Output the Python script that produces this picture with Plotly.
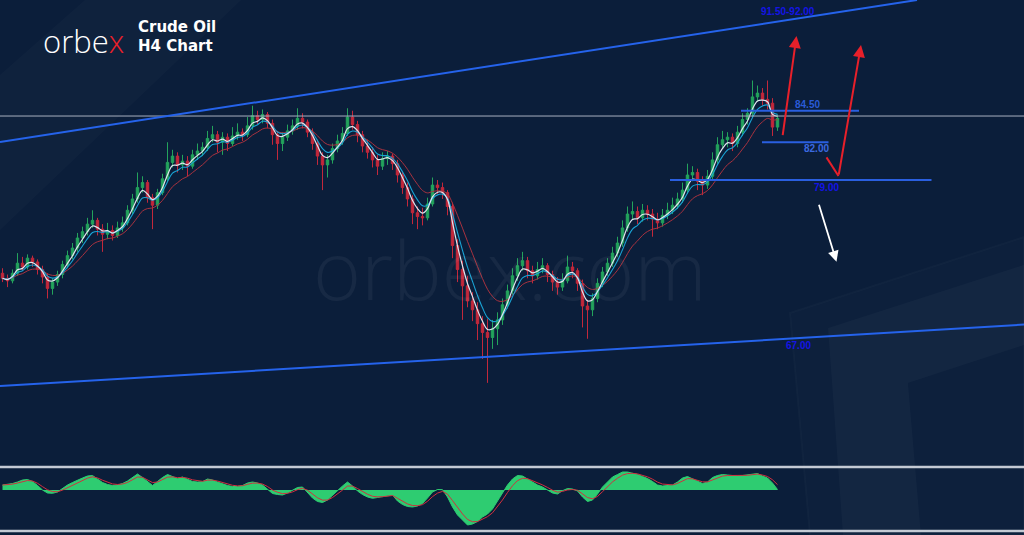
import plotly.graph_objects as go
import pandas as pd

# ---------------- data ----------------
opens = [71.6,71.2,71.0,71.6,72.4,72.1,72.8,72.5,71.9,71.3,
         70.4,70.9,71.5,72.3,73.0,73.6,74.4,74.9,75.5,75.8,
         75.1,74.7,75.0,74.6,75.2,75.6,76.6,77.5,78.4,78.8,
         77.6,77.0,78.0,79.1,80.4,80.9,80.2,80.5,80.1,81.0,
         81.3,81.6,82.3,82.6,82.0,82.4,81.9,82.5,82.8,82.6,
         83.3,84.1,83.8,84.2,83.5,82.6,81.9,82.4,82.9,83.3,
         83.9,83.6,82.8,81.9,80.9,80.2,80.6,81.5,82.1,82.7,
         84.0,83.4,82.6,81.7,81.2,80.6,80.1,80.7,80.9,80.3,
         79.4,78.4,77.5,76.4,76.1,76.0,77.1,78.6,78.4,78.0,
         76.9,73.8,71.9,70.6,69.4,68.7,67.6,66.9,66.5,67.2,
         67.9,69.1,70.2,71.4,72.2,72.6,71.8,71.4,71.9,72.2,
         71.5,70.9,70.5,71.0,72.1,71.8,70.8,69.0,68.7,69.6,
         70.8,71.7,72.4,73.2,74.0,75.2,76.3,76.5,76.0,76.6,
         76.3,75.9,75.6,76.2,76.6,77.0,77.5,78.2,79.4,79.6,
         78.9,78.6,79.3,80.6,81.8,82.2,82.4,81.9,82.8,83.8,
         84.3,85.6,85.9,85.4,85.1,83.2]
highs = [72.0,71.5,71.9,73.2,72.9,73.1,73.0,72.7,72.2,71.6,
         71.2,71.8,72.6,73.4,74.0,74.8,75.3,76.0,76.6,76.0,
         75.5,75.6,75.4,75.7,76.1,77.0,77.9,79.6,79.3,79.0,
         77.9,78.3,79.5,82.0,81.4,81.2,81.0,80.9,81.4,81.9,
         82.0,82.9,83.3,82.9,82.8,82.7,83.2,83.5,83.1,84.0,
         84.9,84.5,84.6,84.4,83.8,82.9,82.8,83.4,83.8,84.7,
         84.3,83.8,83.1,82.2,81.2,81.0,81.9,82.6,83.2,84.7,
         84.5,83.7,82.9,82.2,81.6,81.0,81.2,81.3,81.1,80.6,
         79.7,78.8,77.8,76.9,76.8,77.6,79.2,79.0,78.8,78.2,
         77.2,74.3,72.6,71.4,70.1,69.3,68.2,68.0,67.9,68.5,
         69.6,70.7,72.0,72.8,73.3,72.9,72.2,72.5,72.8,72.4,
         71.8,71.3,71.6,73.0,72.5,72.0,71.1,69.5,70.0,71.2,
         72.1,72.8,73.7,74.5,75.8,76.9,77.3,76.9,77.1,77.0,
         76.7,76.4,76.7,77.2,77.6,78.0,78.8,80.3,80.1,79.9,
         79.3,79.8,81.2,82.4,82.9,82.8,82.7,83.3,84.3,84.7,
         86.9,86.5,86.3,86.9,85.5,84.2]
lows = [70.9,70.5,70.8,71.4,71.8,71.9,72.1,71.5,70.8,69.6,
        69.9,70.6,71.2,72.0,72.7,73.3,74.0,74.6,75.2,74.6,
        73.3,74.3,74.2,74.4,74.9,75.4,76.3,77.2,78.0,77.2,
        75.1,76.7,77.8,78.9,80.0,79.6,79.8,79.3,79.9,80.6,
        80.9,81.3,82.0,81.2,81.0,81.3,81.7,82.2,82.1,82.4,
        83.0,83.4,83.5,83.1,81.8,80.6,81.3,82.1,82.6,83.0,
        83.1,82.4,81.4,80.2,78.2,79.2,80.3,81.2,81.8,82.5,
        83.0,82.0,81.2,80.7,80.0,79.4,79.8,80.2,79.8,78.8,
        77.9,76.9,75.5,75.1,75.4,75.8,76.9,77.9,77.5,76.2,
        72.8,70.9,67.9,68.9,67.8,66.3,64.8,62.9,65.6,65.9,
        67.5,68.8,69.9,71.0,71.8,71.2,70.8,71.1,71.6,70.9,
        70.2,69.9,70.2,70.8,71.2,70.2,67.3,66.4,68.2,69.3,
        70.5,71.4,72.1,72.9,73.7,74.9,75.9,75.5,75.7,75.8,
        74.5,75.1,75.3,75.9,76.3,76.7,77.2,77.9,78.9,78.2,
        77.8,78.3,79.0,80.3,81.5,81.6,81.3,81.6,82.5,83.4,
        84.0,85.2,84.9,84.6,82.5,82.9]
closes = [71.2,71.0,71.6,72.4,72.1,72.8,72.5,71.9,71.3,70.4,
          70.9,71.5,72.3,73.0,73.6,74.4,74.9,75.5,75.8,75.1,
          74.7,75.0,74.6,75.2,75.6,76.6,77.5,78.4,78.8,77.6,
          77.0,78.0,79.1,80.4,80.9,80.2,80.5,80.1,81.0,81.3,
          81.6,82.3,82.6,82.0,82.4,81.9,82.5,82.8,82.6,83.3,
          84.1,83.8,84.2,83.5,82.6,81.9,82.4,82.9,83.3,83.9,
          83.6,82.8,81.9,80.9,80.2,80.6,81.5,82.1,82.7,84.0,
          83.4,82.6,81.7,81.2,80.6,80.1,80.7,80.9,80.3,79.4,
          78.4,77.5,76.4,76.1,76.0,77.1,78.6,78.4,78.0,76.9,
          73.8,71.9,70.6,69.4,68.7,67.6,66.9,66.5,67.2,67.9,
          69.1,70.2,71.4,72.2,72.6,71.8,71.4,71.9,72.2,71.5,
          70.9,70.5,71.0,72.1,71.8,70.8,69.0,68.7,69.6,70.8,
          71.7,72.4,73.2,74.0,75.2,76.3,76.5,76.0,76.6,76.3,
          75.9,75.6,76.2,76.6,77.0,77.5,78.2,79.4,79.6,78.9,
          78.6,79.3,80.6,81.8,82.2,82.4,81.9,82.8,83.8,84.3,
          85.6,85.9,85.4,85.1,83.2,83.9]
oscillator = [0.50,0.55,0.65,0.80,1.00,1.05,0.85,0.45,0.00,-0.30,
              -0.33,-0.20,0.15,0.50,0.75,1.00,1.20,1.40,1.45,1.10,
              0.75,0.55,0.45,0.50,0.65,0.90,1.25,1.60,1.25,0.80,
              0.45,0.85,1.25,1.55,1.35,1.15,1.30,1.10,0.85,0.80,
              0.83,1.10,1.00,0.80,0.60,0.45,0.35,0.35,0.45,0.70,
              0.80,0.70,0.50,0.10,-0.35,-0.45,-0.50,-0.30,-0.05,0.25,
              0.30,-0.20,-0.80,-1.15,-1.25,-1.00,-0.50,-0.10,0.40,0.80,
              0.40,-0.10,-0.45,-0.70,-0.83,-0.75,-0.65,-0.55,-0.50,-1.10,
              -1.45,-1.65,-1.70,-1.60,-1.35,-0.80,-0.20,0.05,0.03,-0.70,
              -1.70,-2.50,-3.00,-3.50,-3.40,-3.15,-2.70,-2.40,-1.90,-1.10,
              -0.30,0.50,1.10,1.45,1.40,1.10,0.75,0.50,0.30,0.00,
              -0.30,-0.40,-0.07,0.15,0.10,-0.10,-0.70,-1.15,-1.00,-0.40,
              0.30,0.80,1.30,1.55,1.80,1.80,1.70,1.55,1.35,1.15,
              0.85,0.50,0.40,0.45,0.50,0.80,1.20,1.35,1.10,0.85,
              0.65,0.80,1.25,1.45,1.55,1.50,1.45,1.40,1.45,1.50,
              1.60,1.65,1.40,1.20,0.70,0.05]
bars = list(range(len(closes)))

# key levels and targets
level_values = [84.50, 82.00, 79.00]
level_labels = ["84.50", "82.00", "79.00"]
upper_trend = [82.02, 93.29]   # price at start / end of upper channel line
lower_trend = [62.65, 67.53]   # price at start / end of lower channel line
current_price = 84.08
target_label = "91.50-92.00"
support_label = "67.00"

# ---------------- derived indicators ----------------
cs = pd.Series(closes)
ma_fast = cs.ewm(span=3, adjust=False).mean()
ma_mid = cs.ewm(span=5, adjust=False).mean()
ma_slow = cs.ewm(span=10, adjust=False).mean()
signal = pd.Series(oscillator).ewm(span=3, adjust=False).mean()

BG = "#0b1e3a"
GREEN = "#23a35c"
RED = "#c3283b"
LEVEL_BLUE = "#2a5fe0"
LABEL_BLUE = "#1414e6"

fig = go.Figure()

fig.add_trace(go.Candlestick(
    x=bars, open=opens, high=highs, low=lows, close=closes,
    increasing=dict(line=dict(color=GREEN, width=1), fillcolor=GREEN),
    decreasing=dict(line=dict(color=RED, width=1), fillcolor=RED),
    whiskerwidth=0, showlegend=False, hoverinfo="skip"))

for s, col, w in [(ma_slow, "#a8323f", 1.0), (ma_mid, "#1aa3d4", 1.1), (ma_fast, "#dfe5ee", 1.2)]:
    fig.add_trace(go.Scatter(x=bars, y=s, mode="lines", line=dict(color=col, width=w),
                             line_shape="spline", showlegend=False, hoverinfo="skip"))

# oscillator panel
fig.add_trace(go.Scatter(x=bars, y=oscillator, mode="lines", fill="tozeroy",
                         fillcolor="#2ecc71", line=dict(color="#2ecc71", width=1),
                         xaxis="x", yaxis="y2", showlegend=False, hoverinfo="skip"))
fig.add_trace(go.Scatter(x=bars, y=signal, mode="lines", line=dict(color="#d0303f", width=1),
                         xaxis="x", yaxis="y2", showlegend=False, hoverinfo="skip"))

shapes = []
# background watermark shapes
shapes.append(dict(type="path", xref="paper", yref="paper", layer="below",
                   path="M 0 0.570 L 0.2354 1 L 0.083 1 L 0 0.86 Z",
                   fillcolor="rgba(255,255,255,0.018)", line=dict(width=0)))
shapes.append(dict(type="path", xref="paper", yref="paper", layer="below",
                   path="M 0.7715 0.415 L 1 0.557 L 1 0 L 0.791 0 Z",
                   fillcolor="rgba(255,255,255,0.012)", line=dict(color="rgba(255,255,255,0.025)", width=2)))
shapes.append(dict(type="path", xref="paper", yref="paper", layer="below",
                   path="M 0.8086 0.387 L 1 0.505 L 1 0.355 L 0.8867 0.284 L 0.8994 0 L 0.8232 0 Z",
                   fillcolor="rgba(255,255,255,0.026)", line=dict(width=0)))

# price line
shapes.append(dict(type="line", xref="paper", yref="y", x0=0, x1=1, y0=current_price, y1=current_price,
                   line=dict(color="#a9b1bf", width=1)))
# channel lines
shapes.append(dict(type="line", xref="x", yref="y", x0=-0.5, x1=182.9, y0=upper_trend[0], y1=upper_trend[1],
                   line=dict(color="#2563eb", width=2)))
shapes.append(dict(type="line", xref="x", yref="y", x0=-0.5, x1=204.3, y0=lower_trend[0], y1=lower_trend[1],
                   line=dict(color="#2563eb", width=2)))
# horizontal levels
level_spans = [(147.7, 171.3), (151.9, 165.2), (133.5, 185.8)]
for v, (a, b) in zip(level_values, level_spans):
    shapes.append(dict(type="line", xref="x", yref="y", x0=a, x1=b, y0=v, y1=v,
                       line=dict(color=LEVEL_BLUE, width=2)))
# red V-shaped path first leg
shapes.append(dict(type="line", xref="x", yref="y", x0=164.8, y0=80.80, x1=167.2, y1=79.32,
                   line=dict(color="#e8202a", width=2)))
# panel separators
for yp in [1 - 467 / 535, 1 - 531 / 535]:
    shapes.append(dict(type="line", xref="paper", yref="paper", x0=0, x1=1, y0=yp, y1=yp,
                       line=dict(color="#c4cad4", width=2.5)))

annotations = []
# arrows
annotations.append(dict(x=158.8, y=90.43, ax=156.0, ay=82.44, xref="x", yref="y", axref="x", ayref="y",
                        showarrow=True, arrowhead=2, arrowsize=1.2, arrowwidth=2, arrowcolor="#e8202a", text=""))
annotations.append(dict(x=171.7, y=89.71, ax=167.2, ay=79.32, xref="x", yref="y", axref="x", ayref="y",
                        showarrow=True, arrowhead=2, arrowsize=1.2, arrowwidth=2, arrowcolor="#e8202a", text=""))
annotations.append(dict(x=166.8, y=72.52, ax=163.2, ay=77.15, xref="x", yref="y", axref="x", ayref="y",
                        showarrow=True, arrowhead=2, arrowsize=1.2, arrowwidth=1.8, arrowcolor="#ffffff", text=""))

lab_font = dict(family="Liberation Sans, Arial", size=10)
def level_text(x, y, txt, col):
    annotations.append(dict(x=x, y=y, xref="x", yref="y", text="<b>%s</b>" % txt, showarrow=False,
                            xanchor="center", yanchor="middle", font=dict(color=col, **lab_font)))
level_text(157.1, 92.36, target_label, LABEL_BLUE)
level_text(160.9, 85.03, level_labels[0], "#2a5bd7")
level_text(162.7, 81.54, level_labels[1], "#3b6ae0")
level_text(164.7, 78.44, level_labels[2], LABEL_BLUE)
level_text(159.1, 65.83, support_label, LABEL_BLUE)

# watermark
annotations.append(dict(x=510 / 1024, y=1 - 268 / 535, xref="paper", yref="paper", text="orbex.com",
                        xanchor="center", yanchor="middle", showarrow=False,
                        font=dict(family="Open Sans", size=82, color="rgba(255,255,255,0.05)", weight=300)))
# logo
annotations.append(dict(x=83 / 1024, y=1 - 41 / 535, xref="paper", yref="paper",
                        xanchor="center", yanchor="middle",
                        text="orbe<span style='color:#e8202a'>x</span>", showarrow=False,
                        font=dict(family="Open Sans", size=31, color="#ffffff", weight=300)))
annotations.append(dict(x=136 / 1024, y=1 - 27 / 535, xref="paper", yref="paper",
                        xanchor="left", yanchor="middle",
                        text="<b>Crude Oil</b>", showarrow=False,
                        font=dict(family="DejaVu Sans", size=15, color="#ffffff")))
annotations.append(dict(x=136 / 1024, y=1 - 46 / 535, xref="paper", yref="paper",
                        xanchor="left", yanchor="middle",
                        text="<b>H4 Chart</b>", showarrow=False,
                        font=dict(family="DejaVu Sans", size=15, color="#ffffff")))

fig.update_layout(
    width=1024, height=535, autosize=False,
    margin=dict(l=0, r=0, t=0, b=0),
    paper_bgcolor=BG, plot_bgcolor=BG,
    xaxis=dict(range=[-0.5, 204.3], visible=False, rangeslider=dict(visible=False), fixedrange=True),
    yaxis=dict(domain=[1 - 463 / 535, 1], range=[56.54, 93.29], visible=False, fixedrange=True),
    yaxis2=dict(domain=[1 - 531 / 535, 1 - 467 / 535], range=[-4.1, 2.3], visible=False,
                anchor="x", fixedrange=True),
    shapes=shapes, annotations=annotations, showlegend=False,
)

fig.write_html("out.html", config={"displayModeBar": False},
               post_script="document.body.style.margin='0';document.body.style.overflow='hidden';")
